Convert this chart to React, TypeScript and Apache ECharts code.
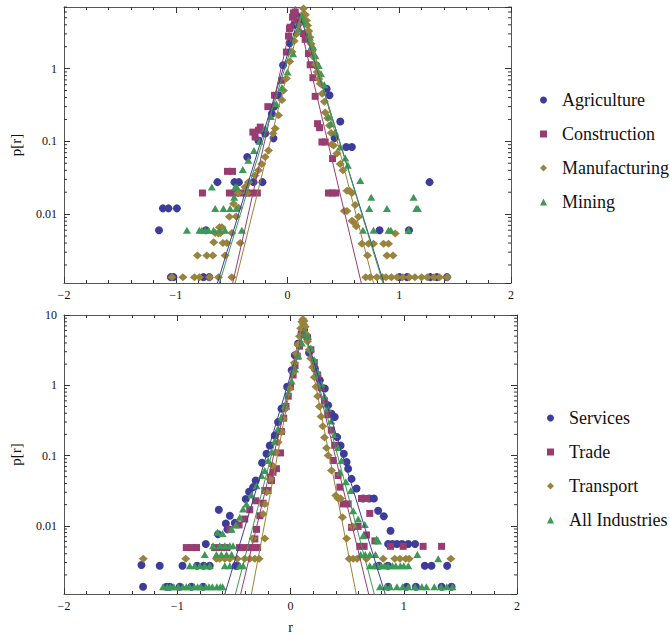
import React, { useEffect, useRef } from "react";
import * as echarts from "echarts";

// ---------- data (r, p[r]) ----------
const TOP_NAMES = ["Agriculture", "Construction", "Manufacturing", "Mining"];
const BOTTOM_NAMES = ["Services", "Trade", "Transport", "All Industries"];

const agriculture: number[][] = [
  [-1.15, 0.006], [-1.115, 0.012], [-1.065, 0.012], [-0.99, 0.012],
  [-1.044, 0.00136], [-1.02, 0.00136], [-0.752, 0.00136], [-0.7, 0.00136],
  [-0.73, 0.006], [-0.627, 0.0275], [-0.474, 0.0275], [-0.435, 0.0275], [-0.304, 0.0275], [-0.224, 0.0275],
  [-0.36, 0.061], [-0.26, 0.103], [-0.2, 0.128], [-0.14, 0.24], [-0.125, 0.11], [-0.12, 0.3], [-0.08, 0.43],
  [-0.04, 1.11], [0.018, 2.25], [0.06, 4.0], [0.1, 5.2], [0.14, 4.6], [0.18, 3.0], [0.22, 1.8], [0.257, 1.11],
  [0.35, 0.53], [0.376, 0.43], [0.421, 0.111], [0.472, 0.188], [0.526, 0.0835], [0.576, 0.0835],
  [1.271, 0.0275], [0.824, 0.006], [1.087, 0.006],
  [1.003, 0.00136], [1.069, 0.00136], [1.278, 0.00136], [1.337, 0.00136], [1.427, 0.00136],
];
const construction: number[][] = [
  [0.054, 5.8], [0.069, 6.0], [0.045, 5.1], [0.078, 4.6], [0.024, 3.7], [0.018, 3.55], [0.009, 2.8],
  [-0.01, 1.69], [-0.05, 0.69], [-0.116, 0.43], [-0.176, 0.3], [-0.244, 0.157], [-0.26, 0.142], [-0.29, 0.115], [-0.31, 0.134],
  [0.143, 3.03], [0.158, 2.53], [0.188, 1.61], [0.203, 1.13], [0.227, 0.75], [0.248, 0.416], [0.269, 0.175],
  [0.287, 0.154], [0.308, 0.098], [0.337, 0.098], [0.403, 0.058], [0.367, 0.0195], [0.4, 0.0195], [0.433, 0.0195],
  [-0.537, 0.0387], [-0.492, 0.0387], [-0.761, 0.0195], [-0.52, 0.0195], [-0.47, 0.0195], [-0.42, 0.0195],
  [-0.37, 0.0195], [-0.32, 0.0195], [-0.27, 0.0195],
];
const manufacturing: number[][] = [
  [0.143, 6.7], [0.143, 5.7], [0.12, 5.0], [0.1, 4.0], [0.16, 5.5], [0.17, 4.6], [0.18, 3.9], [0.19, 3.3],
  [0.2, 2.7], [0.21, 2.2], [0.22, 1.8], [0.235, 1.45], [0.25, 1.15], [0.265, 0.9], [0.28, 0.72], [0.293, 0.62],
  [0.31, 0.45], [0.33, 0.35], [0.337, 0.25], [0.36, 0.21], [0.375, 0.165], [0.39, 0.13], [0.397, 0.091],
  [0.412, 0.088], [0.442, 0.068], [0.472, 0.049], [0.496, 0.04], [0.532, 0.021], [0.555, 0.021], [0.576, 0.0195],
  [0.606, 0.0133], [0.508, 0.011], [0.532, 0.011], [0.636, 0.0092], [0.577, 0.0081], [0.591, 0.0078], [0.615, 0.0068],
  [0.964, 0.0054], [0.666, 0.0039], [0.725, 0.0039], [0.77, 0.0039], [0.86, 0.0039], [0.904, 0.0039],
  [0.716, 0.0027], [0.89, 0.0027], [0.944, 0.0027],
  [0.7, 0.00136], [0.74, 0.00136], [0.8, 0.00136], [0.85, 0.00136], [0.88, 0.00136], [0.93, 0.00136],
  [0.98, 0.00136], [1.03, 0.00136], [1.09, 0.00136], [1.14, 0.00136], [1.2, 0.00136], [1.25, 0.00136],
  [1.31, 0.00136], [1.36, 0.00136], [1.43, 0.00136],
  [0.08, 3.0], [0.06, 2.4], [0.04, 1.7], [0.02, 1.25], [-0.01, 0.73], [-0.036, 0.5], [-0.05, 0.37],
  [-0.08, 0.228], [-0.11, 0.15], [-0.13, 0.128], [-0.17, 0.075], [-0.2, 0.061], [-0.23, 0.049], [-0.26, 0.04],
  [-0.29, 0.034], [-0.35, 0.0275], [-0.38, 0.0235], [-0.364, 0.0195], [-0.44, 0.0195], [-0.483, 0.0139],
  [-0.439, 0.0122], [-0.52, 0.0092], [-0.459, 0.0093], [-0.587, 0.0066], [-0.609, 0.0066], [-0.618, 0.0054],
  [-0.647, 0.0055], [-0.6, 0.0055], [-0.498, 0.0055], [-0.66, 0.0041], [-0.578, 0.004], [-0.543, 0.004],
  [-0.423, 0.004], [-0.806, 0.0027], [-0.722, 0.0027], [-0.668, 0.0027], [-0.558, 0.0027],
  [-1.035, 0.00136], [-0.936, 0.00136], [-0.833, 0.00136], [-0.788, 0.00136], [-0.698, 0.00136],
  [-0.618, 0.00136], [-0.498, 0.00136],
];
const mining: number[][] = [
  [-0.677, 0.0235], [-0.468, 0.0235], [-0.453, 0.0235], [-0.477, 0.017], [-0.647, 0.0119], [-0.573, 0.0119],
  [-0.513, 0.0119], [-0.459, 0.0119], [-0.9, 0.006], [-0.788, 0.006], [-0.766, 0.006], [-0.737, 0.006],
  [-0.707, 0.006], [-0.662, 0.006], [-0.609, 0.006], [-0.558, 0.006], [-0.408, 0.006],
  [-0.4, 0.041], [-0.35, 0.055], [-0.3, 0.075], [-0.25, 0.1], [-0.2, 0.15], [-0.15, 0.22], [-0.1, 0.33],
  [-0.05, 0.55], [0.0, 0.9], [0.05, 1.6], [0.1, 3.5], [0.13, 5.3], [0.16, 4.4], [0.2, 2.7], [0.23, 2.0],
  [0.25, 1.5], [0.28, 1.1], [0.3, 0.85], [0.33, 0.6], [0.367, 0.216], [0.388, 0.175], [0.427, 0.134],
  [0.47, 0.0835], [0.517, 0.059], [0.54, 0.047], [0.651, 0.029], [0.749, 0.017], [1.128, 0.017],
  [0.731, 0.0119], [0.89, 0.0119], [1.152, 0.0119], [1.167, 0.0119],
  [0.675, 0.006], [0.77, 0.006], [0.904, 0.006], [0.925, 0.006], [1.083, 0.006],
];

const services: number[][] = [
  [-1.302, 0.00136], [-1.316, 0.00277], [-1.155, 0.0027], [-0.954, 0.0027], [-0.825, 0.0027], [-0.766, 0.0027],
  [-0.713, 0.0027], [-0.483, 0.0027], [-0.47, 0.0027],
  [-1.095, 0.00136], [-1.066, 0.00136], [-0.978, 0.00136], [-0.875, 0.00136], [-0.772, 0.00136],
  [-0.748, 0.0055], [-0.64, 0.0076], [-0.557, 0.0089], [-0.633, 0.0169], [-0.571, 0.0108], [-0.536, 0.0139],
  [-0.492, 0.011], [-0.395, 0.024], [-0.366, 0.0306], [-0.33, 0.0355], [-0.307, 0.044], [-0.251, 0.079],
  [-0.212, 0.106], [-0.183, 0.139], [-0.139, 0.193], [-0.11, 0.3], [-0.08, 0.465], [-0.03, 0.95],
  [0.01, 1.64], [0.038, 2.68], [0.067, 3.94], [0.097, 5.5], [0.12, 6.1],
  [0.15, 4.5], [0.164, 2.9], [0.215, 1.73], [0.259, 1.18], [0.303, 0.9], [0.332, 0.52], [0.362, 0.394],
  [0.391, 0.354], [0.412, 0.183], [0.442, 0.139], [0.471, 0.106], [0.495, 0.081], [0.509, 0.065],
  [0.539, 0.0465], [0.583, 0.034], [0.641, 0.0245], [0.694, 0.0245], [0.736, 0.0245], [0.774, 0.0164],
  [0.824, 0.0137], [0.883, 0.0085], [0.862, 0.0055], [0.9, 0.0055], [0.94, 0.0055], [0.985, 0.0055],
  [1.04, 0.0055], [1.1, 0.0055], [0.78, 0.0027], [0.86, 0.0027], [1.186, 0.0027], [1.245, 0.0027], [1.383, 0.0027],
  [0.862, 0.00136], [1.025, 0.00136], [1.107, 0.00136], [1.334, 0.00136], [1.422, 0.00136],
];
const trade: number[][] = [
  [0.12, 6.4], [0.1, 5.2], [0.08, 3.6], [0.06, 2.6], [0.04, 1.9], [0.023, 1.4], [0.0, 0.95], [-0.02, 0.7],
  [-0.04, 0.5], [-0.06, 0.34], [-0.08, 0.22], [-0.088, 0.109], [-0.124, 0.065], [-0.154, 0.058],
  [-0.168, 0.044], [-0.177, 0.049], [-0.198, 0.0318], [-0.227, 0.0318], [-0.242, 0.021], [-0.271, 0.0139],
  [-0.307, 0.0227], [-0.3, 0.0089], [-0.315, 0.0065], [-0.36, 0.0169], [-0.404, 0.0125], [-0.454, 0.0103],
  [-0.536, 0.0089],
  [-0.92, 0.0049], [-0.87, 0.0049], [-0.83, 0.0049], [-0.67, 0.0049],
  [-0.61, 0.0049], [-0.56, 0.0049], [-0.45, 0.0049], [-0.4, 0.0049], [-0.36, 0.0049], [-0.32, 0.0049], [-0.29, 0.0049],
  [0.15, 4.8], [0.18, 3.2], [0.21, 2.1], [0.24, 1.4], [0.27, 0.92], [0.3, 0.6], [0.33, 0.38], [0.36, 0.23],
  [0.376, 0.085], [0.39, 0.14], [0.42, 0.052], [0.436, 0.0355], [0.465, 0.0205], [0.509, 0.0205],
  [0.627, 0.0245], [0.671, 0.0245], [0.7, 0.015], [0.539, 0.0095], [0.597, 0.0098], [0.671, 0.0074],
  [0.745, 0.0061], [0.612, 0.0051], [0.65, 0.0051], [0.883, 0.0051], [0.995, 0.0051], [1.171, 0.0051], [1.334, 0.0051],
];
const transport: number[][] = [
  [0.11, 8.7], [0.1, 8.0], [0.12, 8.2], [0.115, 7.4], [0.09, 6.5], [0.13, 6.8], [0.08, 5.0], [0.14, 5.3],
  [0.065, 3.8], [0.15, 4.2], [0.05, 2.8], [0.165, 3.2], [0.035, 2.1], [0.18, 2.4], [0.023, 1.55], [0.195, 1.8],
  [-0.006, 0.9], [0.21, 1.3], [-0.042, 0.465], [0.225, 0.95], [-0.065, 0.335], [0.24, 0.7], [-0.08, 0.216],
  [0.255, 0.5], [-0.11, 0.155], [0.27, 0.36], [-0.13, 0.11], [0.285, 0.26], [-0.159, 0.072], [0.3, 0.18],
  [-0.183, 0.0465], [0.318, 0.128], [-0.212, 0.03], [0.332, 0.1], [-0.227, 0.0205], [0.362, 0.061],
  [-0.242, 0.0147], [0.4, 0.027], [-0.227, 0.0066], [0.42, 0.0245], [0.442, 0.0245], [0.459, 0.0132],
  [0.495, 0.0066], [0.548, 0.0098], [-0.33, 0.0066],
  [-1.3, 0.0034], [-0.925, 0.0034], [-0.654, 0.0034], [-0.625, 0.0034], [-0.58, 0.0034], [-0.536, 0.0034],
  [-0.47, 0.0034], [-0.404, 0.0034], [-0.36, 0.0034], [-0.315, 0.0034], [-0.277, 0.0034],
  [0.518, 0.0034], [0.553, 0.0034], [0.588, 0.0034], [0.671, 0.0034], [0.818, 0.0034], [0.921, 0.0034],
  [0.966, 0.0034], [1.018, 0.0034], [1.048, 0.0034], [1.416, 0.0034],
];
const allIndustries: number[][] = [
  [-1.125, 0.00136], [-1.09, 0.00136], [-1.06, 0.00136], [-1.03, 0.00136], [-0.99, 0.00136], [-0.95, 0.00136],
  [-0.92, 0.00136], [-0.89, 0.00136], [-0.85, 0.00136], [-0.82, 0.00136], [-0.79, 0.00136], [-0.75, 0.00136],
  [-0.72, 0.00136], [-0.69, 0.00136], [-0.65, 0.00136], [-0.62, 0.00136], [-0.6, 0.00136],
  [-0.889, 0.0027], [-0.845, 0.0027], [-0.8, 0.0027], [-0.757, 0.0027], [-0.713, 0.0027], [-0.58, 0.0027],
  [-0.536, 0.0027], [-0.448, 0.0027], [-0.419, 0.0027],
  [-0.757, 0.0039], [-0.654, 0.0039], [-0.61, 0.0039], [-0.565, 0.0039], [-0.52, 0.0039],
  [-0.684, 0.0052], [-0.625, 0.0052], [-0.58, 0.0052], [-0.536, 0.0052], [-0.507, 0.0052],
  [-0.645, 0.0081], [-0.6, 0.0078], [-0.521, 0.0089], [-0.483, 0.0103], [-0.448, 0.0132], [-0.419, 0.0173],
  [-0.389, 0.0205], [-0.345, 0.0275], [-0.3, 0.0373], [-0.256, 0.052], [-0.227, 0.061], [-0.198, 0.085],
  [-0.168, 0.112], [-0.14, 0.16], [-0.11, 0.24], [-0.08, 0.35], [-0.05, 0.52], [-0.02, 0.78], [0.01, 1.15],
  [0.04, 1.7], [0.07, 2.6], [0.1, 4.0], [0.12, 5.5],
  [0.15, 5.0], [0.18, 3.4], [0.21, 2.3], [0.24, 1.55], [0.27, 1.05], [0.3, 0.7], [0.33, 0.47], [0.36, 0.31],
  [0.39, 0.2], [0.42, 0.13], [0.45, 0.085], [0.436, 0.058], [0.489, 0.0425], [0.533, 0.0318], [0.553, 0.0164],
  [0.597, 0.0125], [0.656, 0.0104], [0.641, 0.0072], [0.76, 0.0065], [0.774, 0.0061],
  [0.62, 0.0039], [0.66, 0.0039], [0.7, 0.0039], [0.75, 0.0039], [1.12, 0.0039],
  [0.7, 0.0027], [0.74, 0.0027], [0.77, 0.0027], [0.8, 0.0027], [0.83, 0.0027], [0.86, 0.0027], [0.9, 0.0027],
  [0.93, 0.0027], [0.97, 0.0027], [1.0, 0.0027], [1.04, 0.0027], [1.304, 0.0034],
  [0.79, 0.00136], [0.84, 0.00136], [0.88, 0.00136], [0.94, 0.00136], [0.99, 0.00136], [1.04, 0.00136],
  [1.1, 0.00136], [1.16, 0.00136], [1.2, 0.00136], [1.27, 0.00136], [1.33, 0.00136], [1.38, 0.00136], [1.43, 0.00136],
];

// exponential (Laplace) fit lines: [left end, peak, right end]
const fitAgriculture = [[-0.627, 0.00113], [0.11, 5.6], [0.862, 0.00113]];
const fitConstruction = [[-0.49, 0.00113], [0.07, 7.5], [0.66, 0.00113]];
const fitManufacturing = [[-0.468, 0.00113], [0.14, 6.7], [0.77, 0.00113]];
const fitMining = [[-0.609, 0.00113], [0.12, 5.4], [0.854, 0.00113]];
const fitServices = [[-0.58, 0.00107], [0.12, 6.1], [0.836, 0.00107]];
const fitTrade = [[-0.44, 0.00107], [0.12, 6.6], [0.69, 0.00107]];
const fitTransport = [[-0.345, 0.00107], [0.11, 8.6], [0.58, 0.00107]];
const fitAll = [[-0.486, 0.00107], [0.12, 6.3], [0.74, 0.00107]];

const X_TICKS = [-2, -1, 0, 1, 2];
const TOP_Y_RANGE = [0.00113, 7.03];
const BOTTOM_Y_RANGE = [0.00107, 10];
const DECADES = [0.001, 0.01, 0.1, 1];
const MINOR_MULTS = [2, 3, 4, 5, 6, 7, 8, 9];

const COLORS = ["rgb(61,61,153)", "rgb(153,61,113)", "rgb(153,132,61)", "rgb(61,153,86)"];
const SYMBOLS = ["circle", "rect", "diamond", "triangle"];
const SIZES: any[] = [8, 7, [9, 8], [8, 7]];
const FONT = "Liberation Serif, Times New Roman, serif";

function minorTicks(range: number[]) {
  const out: number[][] = [];
  DECADES.forEach((d) =>
    MINOR_MULTS.forEach((m) => {
      const v = +(d * m).toPrecision(3);
      if (v > range[0] && v < range[1]) out.push([X_TICKS[0], v]);
    })
  );
  return out;
}

function logLabel(v: number) {
  const e = Math.round(Math.log10(v));
  return e >= 0 ? String(Math.pow(10, e)) : "0." + "0".repeat(-e - 1) + "1";
}

export default function App() {
  const ref = useRef<HTMLDivElement>(null);
  useEffect(() => {
    if (!ref.current) return;
    const chart = echarts.init(ref.current, null, { renderer: "svg" });
    const frame = { show: true, onZero: false, lineStyle: { color: "#555", width: 1 } };
    const tick = { show: true, inside: true, length: 6, lineStyle: { color: "#333", width: 1 } };
    const minor = { show: true, splitNumber: 5, length: 3, lineStyle: { color: "#333", width: 1 } };
    const xLabel = {
      fontFamily: FONT, fontSize: 12, color: "#111", margin: 6,
      formatter: (v: number) => (v < 0 ? "\u2212" + Math.abs(v) : String(v)),
    };
    const xAx = (grid: number, pos: string, label: boolean, name?: string) => ({
      gridIndex: grid, type: "value", position: pos, min: X_TICKS[0], max: X_TICKS[X_TICKS.length - 1], interval: 1,
      axisLine: frame, axisTick: tick, minorTick: minor, splitLine: { show: false },
      axisLabel: label ? xLabel : { show: false },
      name, nameLocation: "middle", nameGap: 26,
      nameTextStyle: { fontFamily: FONT, fontSize: 14, color: "#111" },
    });
    const yAx = (grid: number, pos: string, label: boolean, range: number[], showMax: boolean) => ({
      gridIndex: grid, type: "log", logBase: 10, position: pos, min: range[0], max: range[1],
      axisLine: frame, axisTick: tick, splitLine: { show: false },
      axisLabel: label
        ? { fontFamily: FONT, fontSize: 12, color: "#111", margin: 7, showMinLabel: false, showMaxLabel: showMax, formatter: logLabel }
        : { show: false },
      name: label ? "p[r]" : undefined, nameLocation: "middle", nameGap: 41, nameRotate: 90,
      nameTextStyle: { fontFamily: FONT, fontSize: 15, color: "#111" },
    });

    const scatter = (name: string, data: number[][], i: number, ax: number) => ({
      type: "scatter", name, data, xAxisIndex: ax, yAxisIndex: ax,
      symbol: SYMBOLS[i], symbolSize: SIZES[i], itemStyle: { color: COLORS[i], opacity: 1 },
      silent: true,
    });
    const fit = (data: number[][], i: number, ax: number) => ({
      type: "line", data, xAxisIndex: ax, yAxisIndex: ax, symbol: "none", clip: true,
      lineStyle: { color: COLORS[i], width: 1 }, silent: true, z: 3,
    });
    const minorSeries = (ax: number, range: number[]) => ({
      type: "custom", xAxisIndex: ax, yAxisIndex: ax, data: minorTicks(range), silent: true, clip: false,
      renderItem: (params: any, api: any) => {
        const cs = params.coordSys;
        const y = api.coord([api.value(0), api.value(1)])[1];
        return {
          type: "group",
          children: [
            { type: "line", shape: { x1: cs.x, y1: y, x2: cs.x + 3, y2: y }, style: { stroke: "#333", lineWidth: 1 } },
            { type: "line", shape: { x1: cs.x + cs.width, y1: y, x2: cs.x + cs.width - 3, y2: y }, style: { stroke: "#333", lineWidth: 1 } },
          ],
        };
      },
    });

    const topSets = [agriculture, construction, manufacturing, mining];
    const botSets = [services, trade, transport, allIndustries];
    const topFits = [fitAgriculture, fitConstruction, fitManufacturing, fitMining];
    const botFits = [fitServices, fitTrade, fitTransport, fitAll];

    const legend = (names: string[], left: number, top: number) => ({
      data: names, orient: "vertical", left, top, padding: 0, itemGap: 16,
      itemWidth: 7, itemHeight: 7, selectedMode: false,
      textStyle: { fontFamily: FONT, fontSize: 18, color: "#111", lineHeight: 18, padding: [0, 0, 0, 10] },
    });

    chart.setOption({
      animation: false,
      backgroundColor: "#fff",
      grid: [
        { left: 64, top: 7, width: 447, height: 276 },
        { left: 64, top: 315, width: 453, height: 279 },
      ],
      legend: [legend(TOP_NAMES, 540, 91), legend(BOTTOM_NAMES, 547, 409)],
      xAxis: [
        xAx(0, "bottom", true), xAx(0, "top", false),
        xAx(1, "bottom", true, "r"), xAx(1, "top", false),
      ],
      yAxis: [
        yAx(0, "left", true, TOP_Y_RANGE, false), yAx(0, "right", false, TOP_Y_RANGE, false),
        yAx(1, "left", true, BOTTOM_Y_RANGE, true), yAx(1, "right", false, BOTTOM_Y_RANGE, true),
      ],
      series: [
        ...topSets.map((d, i) => scatter(TOP_NAMES[i], d, i, 0)),
        ...topFits.map((d, i) => fit(d, i, 0)),
        minorSeries(0, TOP_Y_RANGE),
        ...botSets.map((d, i) => scatter(BOTTOM_NAMES[i], d, i, 2)),
        ...botFits.map((d, i) => fit(d, i, 2)),
        minorSeries(2, BOTTOM_Y_RANGE),
      ],
    });
    return () => chart.dispose();
  }, []);
  return <div ref={ref} style={{ width: 670, height: 635, position: "absolute", left: 0, top: 0 }} />;
}
